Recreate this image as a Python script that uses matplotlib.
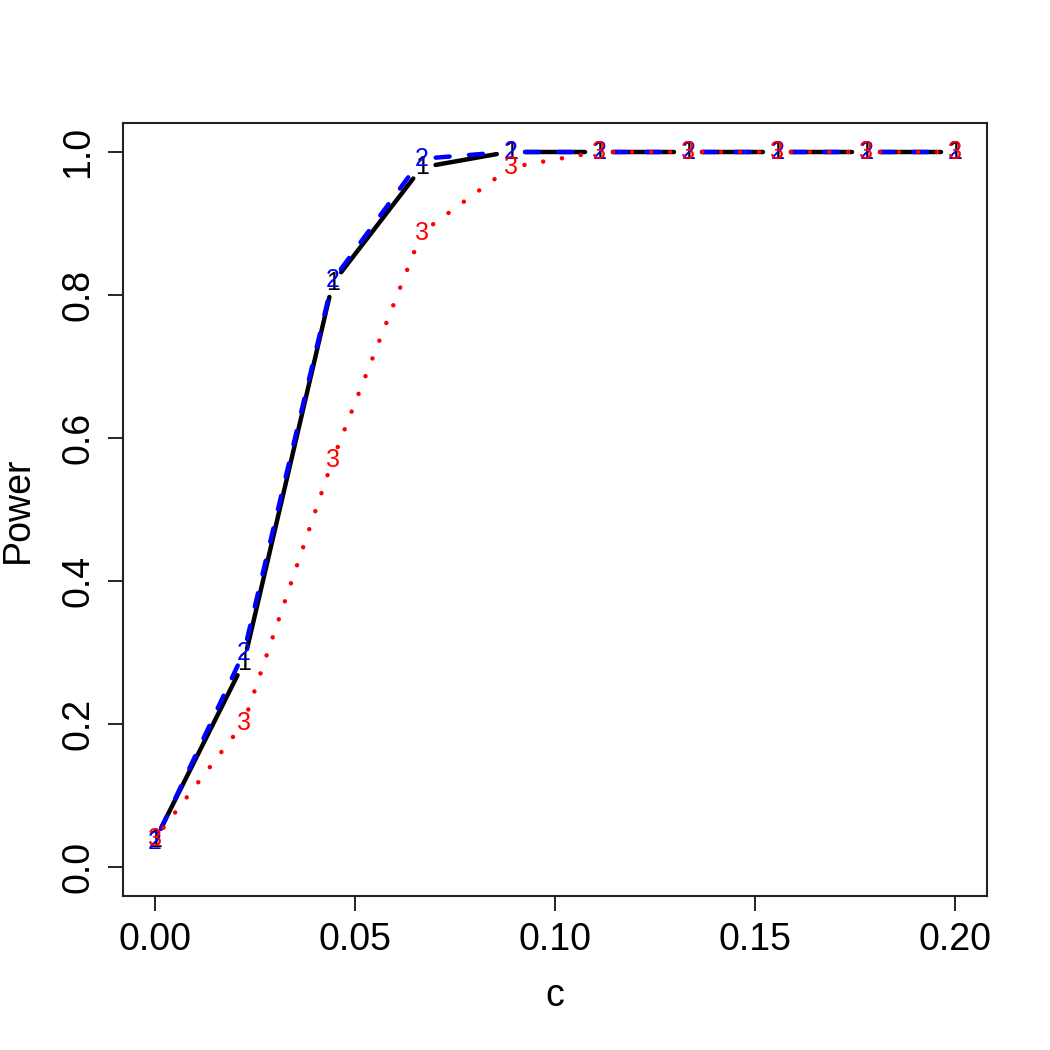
import numpy as np
import matplotlib
matplotlib.use("Agg")
import matplotlib.pyplot as plt

# ---------------- DATA ----------------
c_vals = [0.0, 0.0222, 0.0444, 0.0667, 0.0889, 0.1111, 0.1333, 0.1556, 0.1778, 0.2]
power1 = [0.038, 0.286, 0.816, 0.978, 1.0, 1.0, 1.0, 1.0, 1.0, 1.0]
power2 = [0.036, 0.300, 0.820, 0.990, 1.0, 1.0, 1.0, 1.0, 1.0, 1.0]
power3 = [0.040, 0.202, 0.569, 0.887, 0.978, 1.0, 1.0, 1.0, 1.0, 1.0]

x_ticks = [0.00, 0.05, 0.10, 0.15, 0.20]
y_ticks = [0.0, 0.2, 0.4, 0.6, 0.8, 1.0]

plt.rcParams['font.family'] = ['Liberation Sans', 'DejaVu Sans']
plt.rcParams['lines.scale_dashes'] = False

# ---------------- FIGURE ----------------
fig = plt.figure(figsize=(10.5, 10.5), dpi=100)
ax = fig.add_axes([123 / 1050, 1 - 896 / 1050, 864 / 1050, 773 / 1050])
ax.set_xlim(-0.008, 0.208)
ax.set_ylim(-0.04, 1.04)

series = [
    ("1", power1, "black", "-"),
    ("2", power2, "blue", (0, (10, 14))),
    ("3", power3, "red", (0, (0.1, 13.6))),
]

gap = 14  # pixels left blank around each digit (R type="b")


def draw_gapped(xs, ys, color, ls):
    pts = ax.transData.transform(np.column_stack([xs, ys]))
    inv = ax.transData.inverted()
    for p0, p1 in zip(pts[:-1], pts[1:]):
        d = p1 - p0
        L = np.hypot(d[0], d[1])
        if L <= 2 * gap:
            continue
        a = p0 + d / L * gap
        b = p1 - d / L * gap
        seg = inv.transform(np.array([a, b]))
        ax.plot(seg[:, 0], seg[:, 1], color=color, linestyle=ls, lw=3.2,
                solid_capstyle="round", dash_capstyle="round")


for label, ys, color, ls in series:
    draw_gapped(c_vals, ys, color, ls)
    for x, y in zip(c_vals, ys):
        ax.text(x, y, label, color=color, fontsize=18, ha="center", va="center")

# ---------------- AXES STYLE ----------------
ax.set_xticks(x_ticks)
ax.set_xticklabels([f"{v:.2f}" for v in x_ticks])
ax.set_yticks(y_ticks)
ax.set_yticklabels([f"{v:.1f}" for v in y_ticks], rotation=90, va="center")
ax.tick_params(direction="out", length=11, width=1.2, labelsize=27, pad=8)
for s in ax.spines.values():
    s.set_linewidth(1.5)
    s.set_color("#222222")

ax.set_xlabel("c", fontsize=27, labelpad=14)
ax.set_ylabel("Power", fontsize=27, labelpad=18)

fig.savefig("out.png", dpi=100)
